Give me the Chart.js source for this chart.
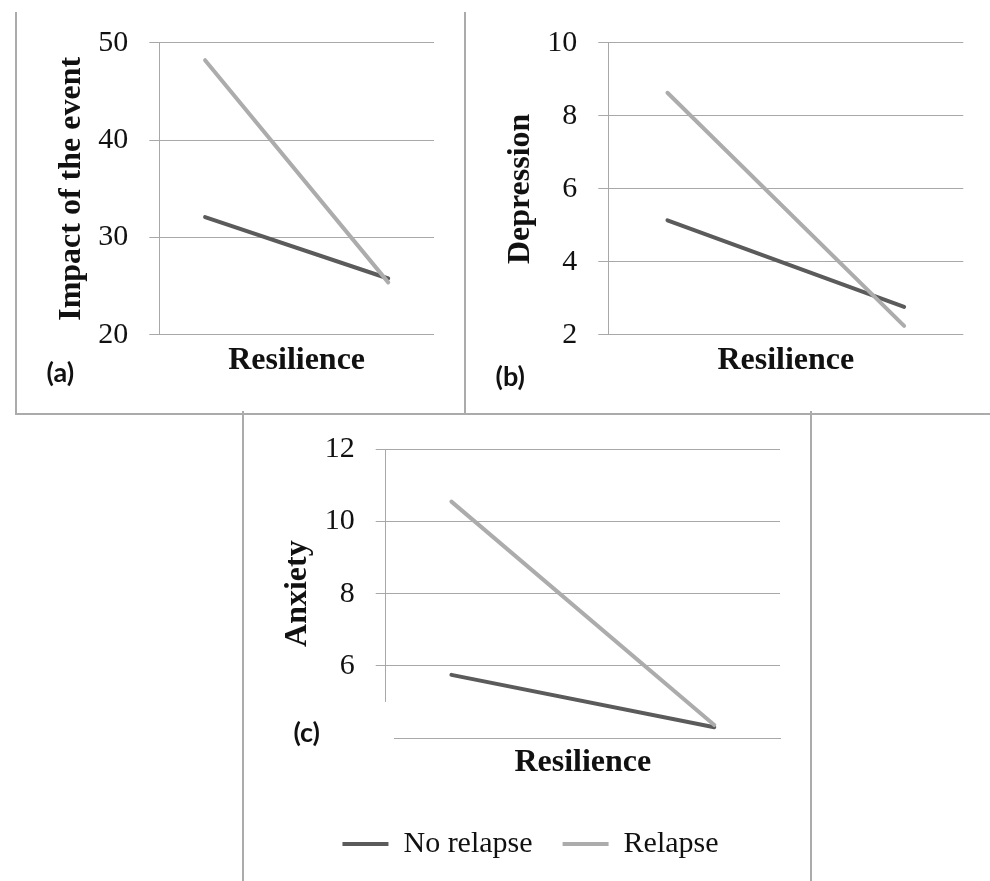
<!DOCTYPE html>
<html>
<head>
<meta charset="utf-8">
<script src="https://cdn.jsdelivr.net/npm/chart.js@4.4.1/dist/chart.umd.min.js"></script>
<style>
  html, body { margin: 0; padding: 0; background: #fff; }
  #page { position: relative; width: 990px; height: 881px; overflow: hidden; }
  #page canvas { position: absolute; left: 0; top: 0; }
  .rule { position: absolute; background: #ababab; }
</style>
</head>
<body>
<div id="page">
  <!-- frame lines around the three panels -->
  <div class="rule" style="left:15px;top:12px;width:2px;height:403px"></div>
  <div class="rule" style="left:464px;top:12px;width:2px;height:403px"></div>
  <div class="rule" style="left:15px;top:413px;width:975px;height:2px"></div>
  <div class="rule" style="left:242px;top:411px;width:2px;height:470px"></div>
  <div class="rule" style="left:810px;top:411px;width:2px;height:470px"></div>
  <canvas id="chartA" width="990" height="881"></canvas>
  <canvas id="chartB" width="990" height="881"></canvas>
  <canvas id="chartC" width="990" height="881"></canvas>
</div>
<script>
// low / high resilience (-1 SD, +1 SD)
const resilience = [-1, 1];
const seriesNames = ['No relapse', 'Relapse'];

const impactNoRelapse = [32.1, 25.8];
const impactRelapse = [48.2, 25.4];
const impactRange = [20, 50, 10];      // min, max, step

const depressionNoRelapse = [5.14, 2.77];
const depressionRelapse = [8.63, 2.25];
const depressionRange = [2, 10, 2];

const anxietyNoRelapse = [5.75, 4.30];
const anxietyRelapse = [10.55, 4.36];
const anxietyRange = [4, 12, 2];

const darkGrey = '#5b5b5b';
const lightGrey = '#acacac';
const gridGrey = '#a8a8a8';

Chart.defaults.font.family = '"Liberation Serif", serif';
Chart.defaults.color = '#111';

function toPoints(vals) {
    return resilience.map((x, i) => ({x: x, y: vals[i]}));
}

// draws the (a)/(b)/(c) tag, with an optional white box under it
const panelLabel = {
    id: 'panelLabel',
    afterDraw(chart, args, opts) {
        const ctx = chart.ctx;
        const area = chart.chartArea;
        ctx.save();
        if (opts.mask) {
            const top = chart.scales.y.getPixelForValue(opts.mask);
            ctx.fillStyle = '#fff';
            ctx.fillRect(area.left - 105, top, 113.3, area.bottom + 22 - top);
        }
        ctx.font = 'bold 27px Lato, "Liberation Sans", sans-serif';
        ctx.fillStyle = '#111';
        ctx.textAlign = 'center';
        ctx.textBaseline = 'middle';
        ctx.fillText(opts.text, area.left + opts.dx, area.bottom + opts.dy);
        ctx.restore();
    }
};

function makePanel(id, cfg) {
    const datasets = [
        {label: seriesNames[0], data: toPoints(cfg.noRelapse), borderColor: darkGrey, backgroundColor: darkGrey, order: 1},
        {label: seriesNames[1], data: toPoints(cfg.relapse), borderColor: lightGrey, backgroundColor: lightGrey, order: 0}
    ];
    datasets.forEach(d => {
        d.borderWidth = 4;
        d.borderCapStyle = 'round';
        d.pointRadius = 0;
        d.tension = 0;
        d.fill = false;
    });

    const scales = {
        x: {
            type: 'linear',
            min: -1.5,
            max: 1.5,
            ticks: {display: false},
            grid: {display: false, drawTicks: false},
            border: {display: cfg.xBorder, color: gridGrey, width: 1},
            title: {display: true, text: 'Resilience', font: {size: 32, weight: 'bold'}, color: '#111', padding: {top: 0, bottom: cfg.xTitlePad}},
            afterFit: s => { s.height = cfg.xHeight; }
        },
        y: {
            min: cfg.range[0],
            max: cfg.range[1],
            ticks: {stepSize: cfg.range[2], padding: 21, font: {size: 30}, color: '#111'},
            grid: {color: gridGrey, lineWidth: 1, tickLength: 10, tickColor: gridGrey},
            border: {display: true, color: gridGrey, width: 1},
            title: {display: true, text: cfg.title, font: {size: 32, weight: 'bold'}, color: '#111', padding: {top: cfg.yTitlePad, bottom: 0}},
            afterFit: s => { s.width = cfg.yWidth; }
        }
    };
    if (cfg.rightSpace) {
        // empty right axis, only reserves room so the legend centres on the panel
        scales.y2 = {
            position: 'right',
            ticks: {display: false},
            grid: {display: false, drawTicks: false},
            border: {display: false},
            afterFit: s => { s.width = cfg.rightSpace; }
        };
    }

    return new Chart(document.getElementById(id), {
        type: 'line',
        data: {datasets: datasets},
        options: {
            responsive: false,
            animation: false,
            devicePixelRatio: 1,
            events: [],
            layout: {padding: cfg.padding},
            scales: scales,
            plugins: {
                tooltip: {enabled: false},
                legend: {
                    display: !!cfg.legend,
                    position: 'bottom',
                    labels: {
                        boxWidth: 46,
                        boxHeight: 4,
                        padding: 30,
                        color: '#111',
                        font: {size: 30},
                        sort: (a, b) => a.datasetIndex - b.datasetIndex,
                        generateLabels: chart => Chart.defaults.plugins.legend.labels.generateLabels(chart)
                            .map(l => Object.assign(l, {lineWidth: 0, fillStyle: l.strokeStyle}))
                    }
                },
                panelLabel: cfg.tag
            }
        },
        plugins: [panelLabel]
    });
}

makePanel('chartA', {
    title: 'Impact of the event',
    noRelapse: impactNoRelapse,
    relapse: impactRelapse,
    range: impactRange,
    padding: {left: 17, top: 42.7, right: 556, bottom: 467},
    yWidth: 142.3, xHeight: 79, yTitlePad: 35.8, xTitlePad: 33.8, xBorder: false,
    tag: {text: '(a)', dx: -99, dy: 38}
});

makePanel('chartB', {
    title: 'Depression',
    noRelapse: depressionNoRelapse,
    relapse: depressionRelapse,
    range: depressionRange,
    padding: {left: 466, top: 42.7, right: 26.7, bottom: 467},
    yWidth: 142.3, xHeight: 79, yTitlePad: 35.6, xTitlePad: 33.8, xBorder: false,
    tag: {text: '(b)', dx: -98, dy: 42}
});

makePanel('chartC', {
    title: 'Anxiety',
    noRelapse: anxietyNoRelapse,
    relapse: anxietyRelapse,
    range: anxietyRange,
    padding: {left: 244, top: 449.3, right: 173, bottom: 12},
    yWidth: 141.7, xHeight: 61, yTitlePad: 34.8, xTitlePad: 16.8, xBorder: true,
    rightSpace: 37,
    legend: true,
    tag: {text: '(c)', dx: -79, dy: -5, mask: 5}
});
</script>
</body>
</html>
